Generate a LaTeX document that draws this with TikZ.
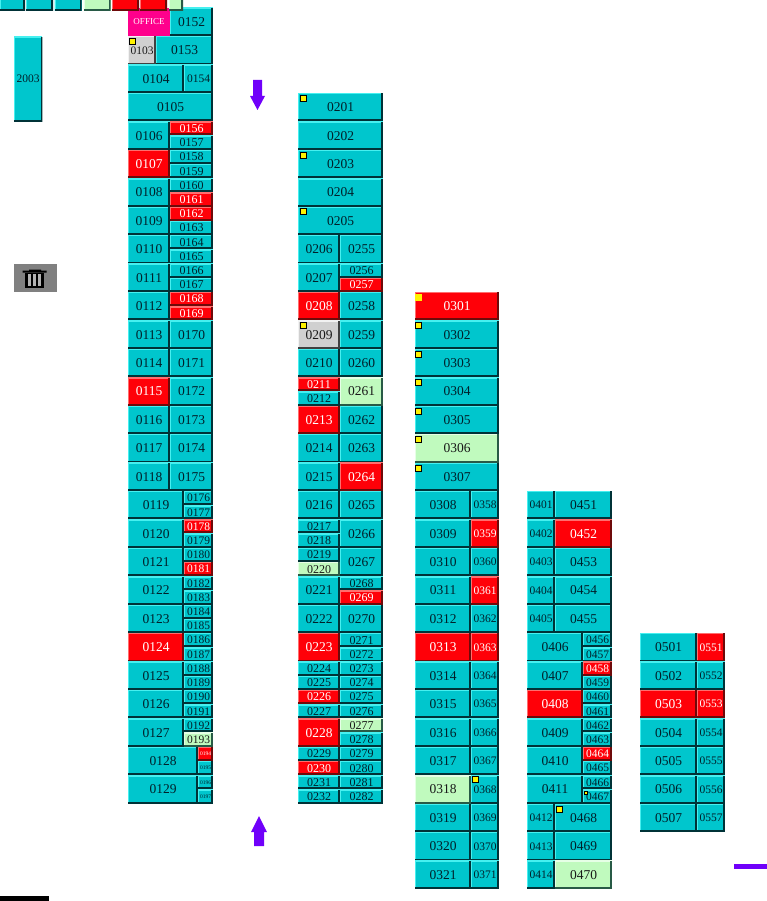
\documentclass[tikz,border=0pt]{standalone}
\usepackage{fontspec}
\setmainfont{Liberation Serif}
\definecolor{cellcy}{RGB}{0,198,205}
\definecolor{cellcytxt}{RGB}{0,32,42}
\definecolor{cellcylt}{RGB}{70,240,240}
\definecolor{cellcydk}{RGB}{0,50,55}
\definecolor{cellrd}{RGB}{255,0,8}
\definecolor{cellrdlt}{RGB}{255,110,110}
\definecolor{cellrddk}{RGB}{110,10,10}
\definecolor{cellgn}{RGB}{192,250,190}
\definecolor{cellgnlt}{RGB}{230,255,230}
\definecolor{cellgndk}{RGB}{40,90,70}
\definecolor{cellgy}{RGB}{208,208,208}
\definecolor{cellpk}{RGB}{255,0,140}
\definecolor{arrowpp}{RGB}{112,0,250}
\definecolor{trashgy}{RGB}{128,128,128}
\tikzset{
  bevel/.style 2 args={path picture={
    \draw[#1,line width=2pt] (path picture bounding box.south west) -- (path picture bounding box.north west) -- (path picture bounding box.north east);
    \draw[#2,line width=3.4pt] (path picture bounding box.north east) -- (path picture bounding box.south east) -- (path picture bounding box.south west);
  }},
  cellbox/.style={rectangle,inner sep=0pt,outer sep=0pt,align=center},
  kcy/.style={fill=cellcy,text=cellcytxt,bevel={cellcylt}{cellcydk}},
  krd/.style={fill=cellrd,text=white,bevel={cellrdlt}{cellrddk}},
  kgn/.style={fill=cellgn,text=black!90,bevel={cellgnlt}{cellgndk}},
  kgy/.style={fill=cellgy,text=black!90,bevel={white!90!gray}{black!75}},
  kpk/.style={fill=cellpk,text=white},
  fa/.style={font=\fontsize{13.5}{14}\selectfont},
  fb/.style={font=\fontsize{11.5}{12}\selectfont},
  fh/.style={font=\fontsize{12}{12}\selectfont},
  ft/.style={font=\fontsize{5.5}{6}\selectfont},
  fo/.style={font=\fontsize{9}{10}\selectfont},
  yellowmk/.style={rectangle,fill=yellow,draw=black,line width=0.7pt,inner sep=0pt,minimum size=6pt},
  plainbar/.style={rectangle,inner sep=0pt,outer sep=0pt},
}
\newcommand\FF[6]{\pgfmathsetmacro\cxm{(#1+#2)/2}\pgfmathsetmacro\cwd{#2-#1-0.4}\pgfmathsetmacro\cym{8+28.43*#3+13.9}%
  \node[cellbox,#4,#6,minimum width=\cwd pt,minimum height=27.8pt] (n#5) at (\cxm,\cym) {#5};}
\newcommand\TT[6][fh]{\pgfmathsetmacro\cxm{(#2+#3)/2}\pgfmathsetmacro\cwd{#3-#2-0.4}\pgfmathsetmacro\cym{8+28.43*#4+6.7}%
  \node[cellbox,#5,#1,minimum width=\cwd pt,minimum height=13.4pt] (n#6) at (\cxm,\cym) {#6};}
\newcommand\BB[6][fh]{\pgfmathsetmacro\cxm{(#2+#3)/2}\pgfmathsetmacro\cwd{#3-#2-0.4}\pgfmathsetmacro\cym{8+28.43*#4+21}%
  \node[cellbox,#5,#1,minimum width=\cwd pt,minimum height=13.6pt] (n#6) at (\cxm,\cym) {#6};}
\newcommand\MK[3]{\node[yellowmk] (m#1) at (#2,#3) {};}
\begin{document}
\begin{tikzpicture}[x=1pt,y=-1pt]
\useasboundingbox (0,0) rectangle (767,901);
% column 1
\FF{128}{170}{0}{kpk}{OFFICE}{fo}\FF{170}{213}{0}{kcy}{0152}{fa}
\FF{128}{156}{1}{kgy}{0103}{fb}\FF{156}{213}{1}{kcy}{0153}{fa}
\FF{128}{184}{2}{kcy}{0104}{fa}\FF{184}{213}{2}{kcy}{0154}{fb}
\FF{128}{213}{3}{kcy}{0105}{fa}
\FF{128}{170}{4}{kcy}{0106}{fa}\TT{170}{213}{4}{krd}{0156}\BB{170}{213}{4}{kcy}{0157}
\FF{128}{170}{5}{krd}{0107}{fa}\TT{170}{213}{5}{kcy}{0158}\BB{170}{213}{5}{kcy}{0159}
\FF{128}{170}{6}{kcy}{0108}{fa}\TT{170}{213}{6}{kcy}{0160}\BB{170}{213}{6}{krd}{0161}
\FF{128}{170}{7}{kcy}{0109}{fa}\TT{170}{213}{7}{krd}{0162}\BB{170}{213}{7}{kcy}{0163}
\FF{128}{170}{8}{kcy}{0110}{fa}\TT{170}{213}{8}{kcy}{0164}\BB{170}{213}{8}{kcy}{0165}
\FF{128}{170}{9}{kcy}{0111}{fa}\TT{170}{213}{9}{kcy}{0166}\BB{170}{213}{9}{kcy}{0167}
\FF{128}{170}{10}{kcy}{0112}{fa}\TT{170}{213}{10}{krd}{0168}\BB{170}{213}{10}{krd}{0169}
\FF{128}{170}{11}{kcy}{0113}{fa}\FF{170}{213}{11}{kcy}{0170}{fa}
\FF{128}{170}{12}{kcy}{0114}{fa}\FF{170}{213}{12}{kcy}{0171}{fa}
\FF{128}{170}{13}{krd}{0115}{fa}\FF{170}{213}{13}{kcy}{0172}{fa}
\FF{128}{170}{14}{kcy}{0116}{fa}\FF{170}{213}{14}{kcy}{0173}{fa}
\FF{128}{170}{15}{kcy}{0117}{fa}\FF{170}{213}{15}{kcy}{0174}{fa}
\FF{128}{170}{16}{kcy}{0118}{fa}\FF{170}{213}{16}{kcy}{0175}{fa}
\FF{128}{184}{17}{kcy}{0119}{fa}\TT[fb]{184}{213}{17}{kcy}{0176}\BB[fb]{184}{213}{17}{kcy}{0177}
\FF{128}{184}{18}{kcy}{0120}{fa}\TT[fb]{184}{213}{18}{krd}{0178}\BB[fb]{184}{213}{18}{kcy}{0179}
\FF{128}{184}{19}{kcy}{0121}{fa}\TT[fb]{184}{213}{19}{kcy}{0180}\BB[fb]{184}{213}{19}{krd}{0181}
\FF{128}{184}{20}{kcy}{0122}{fa}\TT[fb]{184}{213}{20}{kcy}{0182}\BB[fb]{184}{213}{20}{kcy}{0183}
\FF{128}{184}{21}{kcy}{0123}{fa}\TT[fb]{184}{213}{21}{kcy}{0184}\BB[fb]{184}{213}{21}{kcy}{0185}
\FF{128}{184}{22}{krd}{0124}{fa}\TT[fb]{184}{213}{22}{kcy}{0186}\BB[fb]{184}{213}{22}{kcy}{0187}
\FF{128}{184}{23}{kcy}{0125}{fa}\TT[fb]{184}{213}{23}{kcy}{0188}\BB[fb]{184}{213}{23}{kcy}{0189}
\FF{128}{184}{24}{kcy}{0126}{fa}\TT[fb]{184}{213}{24}{kcy}{0190}\BB[fb]{184}{213}{24}{kcy}{0191}
\FF{128}{184}{25}{kcy}{0127}{fa}\TT[fb]{184}{213}{25}{kcy}{0192}\BB[fb]{184}{213}{25}{kgn}{0193}
\FF{128}{198}{26}{kcy}{0128}{fa}\TT[ft]{198}{213}{26}{krd}{0194}\BB[ft]{198}{213}{26}{kcy}{0195}
\FF{128}{198}{27}{kcy}{0129}{fa}\TT[ft]{198}{213}{27}{kcy}{0196}\BB[ft]{198}{213}{27}{kcy}{0197}
% top strip
\node[cellbox,kcy,minimum width=25pt,minimum height=24pt] (ta) at (12.5,-1) {};
\node[cellbox,kcy,minimum width=27pt,minimum height=24pt] (tb) at (39.5,-1) {};
\node[cellbox,kcy,minimum width=27pt,minimum height=24pt] (tc) at (68,-1) {};
\node[cellbox,kgn,minimum width=27pt,minimum height=24pt] (td) at (97,-1) {};
\node[cellbox,krd,minimum width=27pt,minimum height=24pt] (te) at (125.5,-1) {};
\node[cellbox,krd,minimum width=27pt,minimum height=24pt] (tf) at (153.5,-1) {};
\node[cellbox,kgn,minimum width=14pt,minimum height=24pt] (tg) at (176,-1) {};
% 2003
\node[cellbox,kcy,fb,minimum width=28.4pt,minimum height=84.6pt] (n2003) at (28.2,79) {2003};
% column 2
\foreach \r/\l in {3/0201,4/0202,5/0203,6/0204,7/0205}{\FF{298}{383}{\r}{kcy}{\l}{fa}}
\FF{298}{340}{8}{kcy}{0206}{fa}\FF{340}{383}{8}{kcy}{0255}{fa}
\FF{298}{340}{9}{kcy}{0207}{fa}\TT{340}{383}{9}{kcy}{0256}\BB{340}{383}{9}{krd}{0257}
\FF{298}{340}{10}{krd}{0208}{fa}\FF{340}{383}{10}{kcy}{0258}{fa}
\FF{298}{340}{11}{kgy}{0209}{fa}\FF{340}{383}{11}{kcy}{0259}{fa}
\FF{298}{340}{12}{kcy}{0210}{fa}\FF{340}{383}{12}{kcy}{0260}{fa}
\TT{298}{340}{13}{krd}{0211}\BB{298}{340}{13}{kcy}{0212}\FF{340}{383}{13}{kgn}{0261}{fa}
\FF{298}{340}{14}{krd}{0213}{fa}\FF{340}{383}{14}{kcy}{0262}{fa}
\FF{298}{340}{15}{kcy}{0214}{fa}\FF{340}{383}{15}{kcy}{0263}{fa}
\FF{298}{340}{16}{kcy}{0215}{fa}\FF{340}{383}{16}{krd}{0264}{fa}
\FF{298}{340}{17}{kcy}{0216}{fa}\FF{340}{383}{17}{kcy}{0265}{fa}
\TT{298}{340}{18}{kcy}{0217}\BB{298}{340}{18}{kcy}{0218}\FF{340}{383}{18}{kcy}{0266}{fa}
\TT{298}{340}{19}{kcy}{0219}\BB{298}{340}{19}{kgn}{0220}\FF{340}{383}{19}{kcy}{0267}{fa}
\FF{298}{340}{20}{kcy}{0221}{fa}\TT{340}{383}{20}{kcy}{0268}\BB{340}{383}{20}{krd}{0269}
\FF{298}{340}{21}{kcy}{0222}{fa}\FF{340}{383}{21}{kcy}{0270}{fa}
\FF{298}{340}{22}{krd}{0223}{fa}\TT{340}{383}{22}{kcy}{0271}\BB{340}{383}{22}{kcy}{0272}
\TT{298}{340}{23}{kcy}{0224}\BB{298}{340}{23}{kcy}{0225}\TT{340}{383}{23}{kcy}{0273}\BB{340}{383}{23}{kcy}{0274}
\TT{298}{340}{24}{krd}{0226}\BB{298}{340}{24}{kcy}{0227}\TT{340}{383}{24}{kcy}{0275}\BB{340}{383}{24}{kcy}{0276}
\FF{298}{340}{25}{krd}{0228}{fa}\TT{340}{383}{25}{kgn}{0277}\BB{340}{383}{25}{kcy}{0278}
\TT{298}{340}{26}{kcy}{0229}\BB{298}{340}{26}{krd}{0230}\TT{340}{383}{26}{kcy}{0279}\BB{340}{383}{26}{kcy}{0280}
\TT{298}{340}{27}{kcy}{0231}\BB{298}{340}{27}{kcy}{0232}\TT{340}{383}{27}{kcy}{0281}\BB{340}{383}{27}{kcy}{0282}
% column 3
\FF{415}{499}{10}{krd}{0301}{fa}
\foreach \r/\l in {11/0302,12/0303,13/0304,14/0305,16/0307}{\FF{415}{499}{\r}{kcy}{\l}{fa}}
\FF{415}{499}{15}{kgn}{0306}{fa}
\foreach \r/\l/\k/\m/\j in {17/0308/kcy/0358/kcy,18/0309/kcy/0359/krd,19/0310/kcy/0360/kcy,20/0311/kcy/0361/krd,21/0312/kcy/0362/kcy,22/0313/krd/0363/krd,23/0314/kcy/0364/kcy,24/0315/kcy/0365/kcy,25/0316/kcy/0366/kcy,26/0317/kcy/0367/kcy,27/0318/kgn/0368/kcy,28/0319/kcy/0369/kcy,29/0320/kcy/0370/kcy,30/0321/kcy/0371/kcy}{\FF{415}{471}{\r}{\k}{\l}{fa}\FF{471}{499}{\r}{\j}{\m}{fb}}
% column 4
\foreach \r/\l/\m/\j in {17/0401/0451/kcy,18/0402/0452/krd,19/0403/0453/kcy,20/0404/0454/kcy,21/0405/0455/kcy}{\FF{527}{555}{\r}{kcy}{\l}{fb}\FF{555}{612}{\r}{\j}{\m}{fa}}
\FF{527}{583}{22}{kcy}{0406}{fa}\TT[fb]{583}{612}{22}{kcy}{0456}\BB[fb]{583}{612}{22}{kcy}{0457}
\FF{527}{583}{23}{kcy}{0407}{fa}\TT[fb]{583}{612}{23}{krd}{0458}\BB[fb]{583}{612}{23}{kcy}{0459}
\FF{527}{583}{24}{krd}{0408}{fa}\TT[fb]{583}{612}{24}{kcy}{0460}\BB[fb]{583}{612}{24}{kcy}{0461}
\FF{527}{583}{25}{kcy}{0409}{fa}\TT[fb]{583}{612}{25}{kcy}{0462}\BB[fb]{583}{612}{25}{kcy}{0463}
\FF{527}{583}{26}{kcy}{0410}{fa}\TT[fb]{583}{612}{26}{krd}{0464}\BB[fb]{583}{612}{26}{kcy}{0465}
\FF{527}{583}{27}{kcy}{0411}{fa}\TT[fb]{583}{612}{27}{kcy}{0466}\BB[fb]{583}{612}{27}{kcy}{0467}
\FF{527}{555}{28}{kcy}{0412}{fb}\FF{555}{612}{28}{kcy}{0468}{fa}
\FF{527}{555}{29}{kcy}{0413}{fb}\FF{555}{612}{29}{kcy}{0469}{fa}
\FF{527}{555}{30}{kcy}{0414}{fb}\FF{555}{612}{30}{kgn}{0470}{fa}
% column 5
\foreach \r/\l/\k/\m/\j in {22/0501/kcy/0551/krd,23/0502/kcy/0552/kcy,24/0503/krd/0553/krd,25/0504/kcy/0554/kcy,26/0505/kcy/0555/kcy,27/0506/kcy/0556/kcy,28/0507/kcy/0557/kcy}{\FF{640}{697}{\r}{\k}{\l}{fa}\FF{697}{725}{\r}{\j}{\m}{fb}}
% yellow markers
\MK{0103}{132.5}{41}
\MK{0201}{303}{98}\MK{0203}{303}{155}\MK{0205}{303}{211}
\MK{0209}{303}{325}
\node[yellowmk,draw=none,minimum size=7pt] (m0301) at (418.5,297.5) {};
\MK{0302}{418.5}{325.5}\MK{0303}{418.5}{354}\MK{0304}{418.5}{382}\MK{0305}{418.5}{411}\MK{0306}{418.5}{439}\MK{0307}{418.5}{468}
\MK{0368}{475.5}{779}
\MK{0468}{559.5}{809.5}
\node[yellowmk,minimum size=3pt] (m0467) at (586,793) {};
% arrows
\fill[arrowpp] (253,80) -- (262,80) -- (262,96) -- (265,96) -- (257.5,110) -- (250,96) -- (253,96) -- cycle;
\fill[arrowpp] (254,846) -- (264,846) -- (264,832) -- (267,832) -- (259,816) -- (251,832) -- (254,832) -- cycle;
\node[plainbar,fill=arrowpp,minimum width=33pt,minimum height=5pt] (barp) at (750.5,866.5) {};
\node[plainbar,fill=black,minimum width=49pt,minimum height=5pt] (bark) at (24.5,898.5) {};
% trash
\node[plainbar,fill=trashgy,minimum width=43pt,minimum height=28pt] (trash) at (35.5,278) {};
\fill[black] (22.5,270.5) -- (29,270.5) -- (29,269.5) -- (41,269.5) -- (41,270.5) -- (46.5,270.5) -- (46.5,272.5) -- (22.5,272.5) -- cycle;
\fill[black] (25,272.5) rectangle (44,288);
\foreach \xs in {28.3,33.1,37.9}{\fill[trashgy!60!white] (\xs,274) rectangle (\xs+2.8,285.5);}
\end{tikzpicture}
\end{document}
